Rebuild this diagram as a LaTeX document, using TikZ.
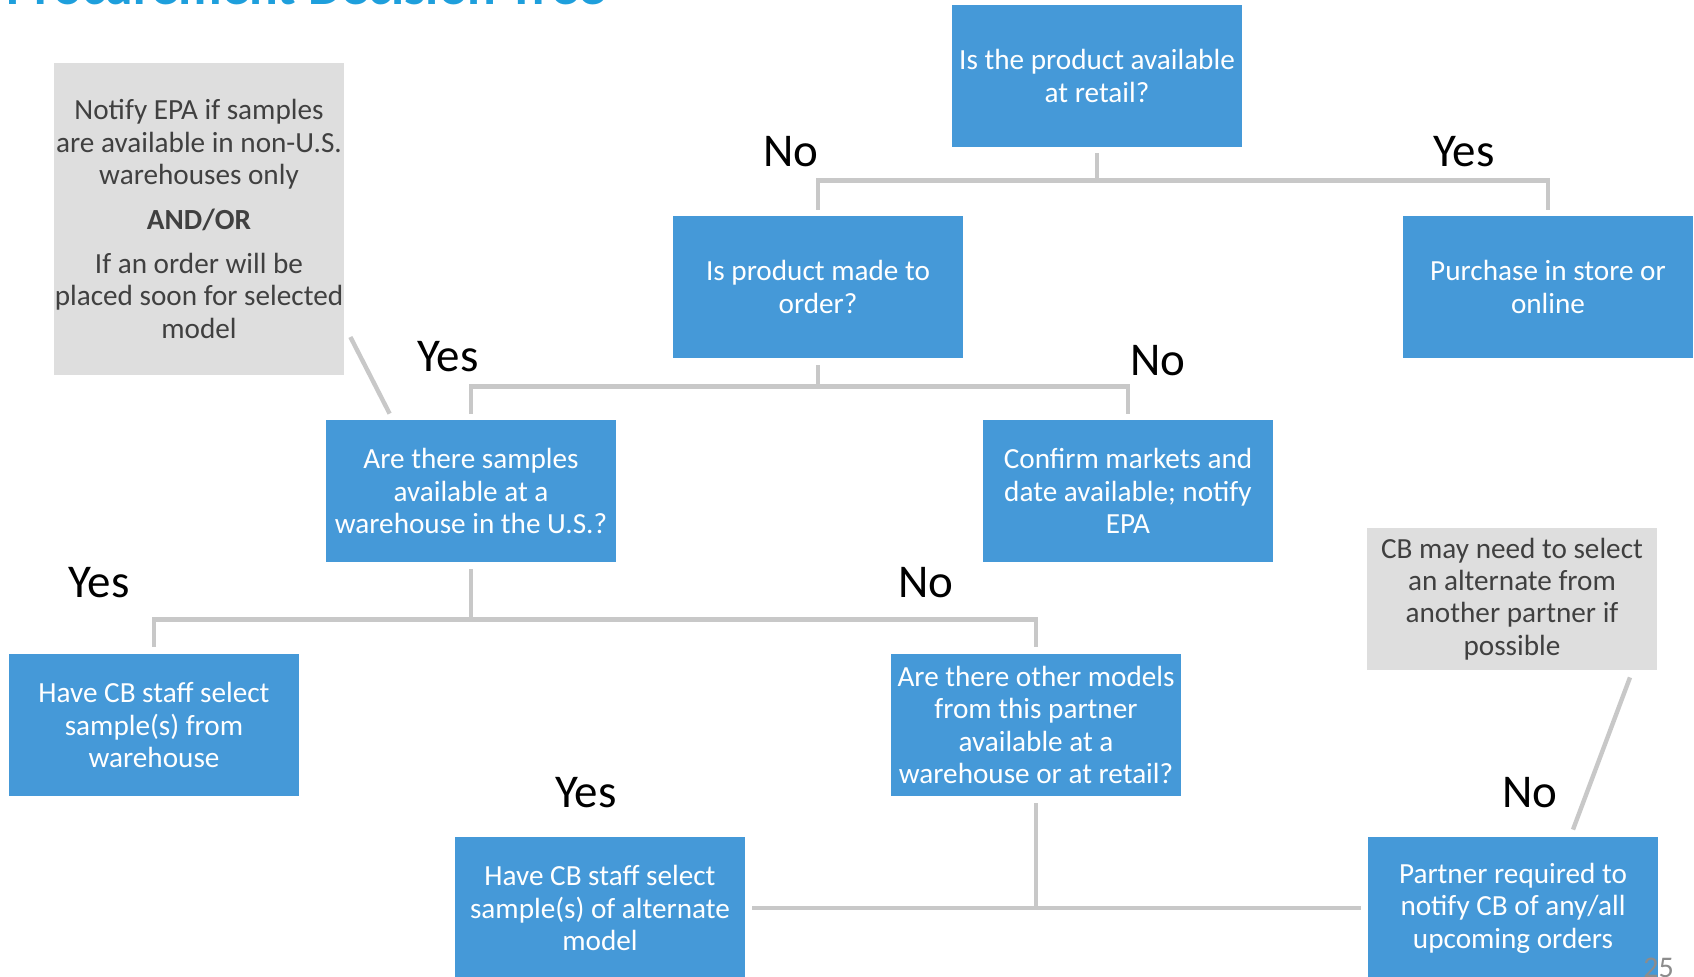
\documentclass[tikz,border=0pt]{standalone}
\usepackage{fontspec}
\setmainfont{Carlito}
\usetikzlibrary{calc}
\definecolor{boxblue}{HTML}{4599D8}
\definecolor{notegrey}{HTML}{DEDEDE}
\definecolor{linegrey}{HTML}{C8C8C8}
\definecolor{txtgrey}{HTML}{404040}
\definecolor{ttlblue}{HTML}{1E9FDC}
\definecolor{pggrey}{HTML}{8C8C8C}

\begin{document}
\begin{tikzpicture}[
  x=0.5pt, y=-0.5pt,
  qbox/.style={fill=boxblue, text=white, minimum width=145pt, minimum height=71pt, align=center, inner sep=0pt, font=\fontsize{14.6}{16.2}\selectfont},
  note/.style={fill=notegrey, text=txtgrey, minimum width=145pt, align=center, inner sep=0pt, font=\fontsize{14.6}{16.2}\selectfont},
  ans/.style={font=\fontsize{23.5}{28}\selectfont, text=black, inner sep=0pt},
  conn/.style={draw=linegrey, line width=2.2pt},
]
\useasboundingbox (0,0) rectangle (1694,976);

% title, cut by the top edge
\node[anchor=base west, inner sep=0pt, font=\fontsize{26.8}{30}\selectfont\bfseries, text=ttlblue] (title) at (6,4) {Procurement Decision Tree};

% questions and outcomes
\node[qbox] (retail) at (1097,76) {Is the product available\\at retail?};
\node[qbox] (mto) at (818,287) {Is product made to\\order?};
\node[qbox] (purchase) at (1548,287) {Purchase in store or\\online};
\node[qbox] (samples) at (471,491) {Are there samples\\available at a\\warehouse in the U.S.?};
\node[qbox] (confirm) at (1128,491) {Confirm markets and\\date available; notify\\EPA};
\node[qbox] (cbsel) at (154,725) {Have CB staff select\\sample(s) from\\warehouse};
\node[qbox] (other) at (1036,725) {Are there other models\\from this partner\\available at a\\warehouse or at retail?};
\node[qbox] (alt) at (600,908) {Have CB staff select\\sample(s) of alternate\\model};
\node[qbox] (partner) at (1513,908) {Partner required to\\notify CB of any/all\\upcoming orders};

% grey notes
\node[note, minimum height=156pt] (note1) at (199,219) {Notify EPA if samples\\are available in non-U.S.\\warehouses only\\[6pt]\textbf{AND/OR}\\[6pt]If an order will be\\placed soon for selected\\model};
\node[note, minimum height=71pt] (note2) at (1512,599) {CB may need to select\\an alternate from\\another partner if\\possible};

% branches
\draw[conn] ([yshift=-3pt]retail.south) -- ++(0,-13.5pt) -| ([yshift=3pt]mto.north);
\draw[conn] ([yshift=-16.5pt]retail.south) -| ([yshift=3pt]purchase.north);
\draw[conn] ([yshift=-3.5pt]mto.south) -- ++(0,-10.5pt) -| ([yshift=3pt]samples.north);
\draw[conn] ([yshift=-14pt]mto.south) -| ([yshift=3pt]confirm.north);
\draw[conn] ([yshift=-3.5pt]samples.south) -- ++(0,-25pt) -| ([yshift=3.5pt]cbsel.north);
\draw[conn] ([yshift=-28.5pt]samples.south) -| ([yshift=3.5pt]other.north);
\draw[conn] ([xshift=3.5pt]alt.east) -- ([xshift=-3.5pt]partner.west);
\draw[conn] ([yshift=-3.5pt]other.south) -- (other.south |- alt.east);

% note pointers
\draw[conn] ([shift={(6,118)}]note1.east) -- ([shift={(64,-6)}]samples.north west);
\draw[conn] ([shift={(118,7)}]note2.south) -- ([shift={(60,-7)}]partner.north);

% answers
\node[ans] (no1) at (791,152) {No};
\node[ans] (yes1) at (1464,152) {Yes};
\node[ans] (yes2) at (448,357) {Yes};
\node[ans] (no2) at (1158,361) {No};
\node[ans] (yes3) at (99,583) {Yes};
\node[ans] (no3) at (926,583) {No};
\node[ans] (yes4) at (586,793) {Yes};
\node[ans] (no4) at (1530,793) {No};

% page number
\node[anchor=north west, inner sep=0pt, font=\fontsize{15}{18}\selectfont, text=pggrey] (pgno) at (1643,958) {25};

\end{tikzpicture}
\end{document}
